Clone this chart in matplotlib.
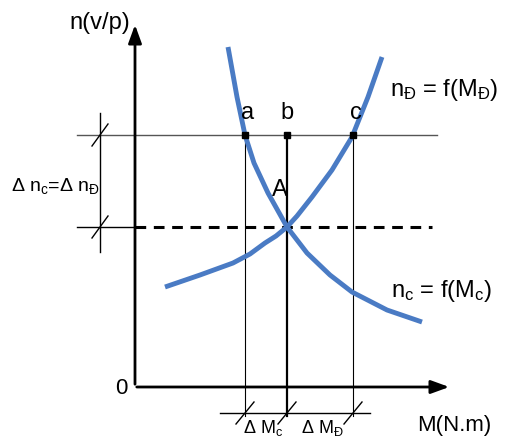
import matplotlib.pyplot as plt

plt.rcParams['font.family'] = ['Liberation Sans Narrow', 'Liberation Sans', 'DejaVu Sans']
plt.rcParams['mathtext.fontset'] = 'custom'
plt.rcParams['mathtext.rm'] = 'Liberation Sans'
plt.rcParams['mathtext.it'] = 'Liberation Sans'

# diagram coordinates (x to the right, y downwards)
origin = (135, 387)
n_level = 135          # speed line through a, b, c
A_level = 227          # speed at the operating point A
pts_x = [245, 287, 353]
pts_names = ['a', 'b', 'c']

# motor characteristic n_D = f(M_D) (rising)
motor_x = [165, 200, 233, 250, 265, 276, 287, 297, 312, 332, 352, 368, 382]
motor_y = [287, 275, 263, 254, 243, 236, 227, 216, 197, 170, 137, 97, 57]
# load characteristic n_c = f(M_c) (falling)
load_x = [228, 237, 245, 254, 268, 287, 307, 330, 352, 387, 422]
load_y = [47, 97, 135, 163, 193, 227, 253, 275, 292, 310, 322]

blue = '#4a7bc4'

fig = plt.figure(figsize=(5.07, 4.42), dpi=100)
ax = fig.add_axes([0, 0, 1, 1])
ax.set_xlim(0, 507)
ax.set_ylim(442, 0)
ax.axis('off')

# axes with arrows
ax.annotate('', xy=(origin[0], 22), xytext=(origin[0], origin[1]),
            arrowprops=dict(arrowstyle='-|>,head_length=1.1,head_width=0.4', color='black', lw=2))
ax.annotate('', xy=(452, origin[1]), xytext=(origin[0] - 1, origin[1]),
            arrowprops=dict(arrowstyle='-|>,head_length=1.1,head_width=0.4', color='black', lw=2))
ax.text(121, 389, '0', fontsize=16, ha='center', va='center')
ax.text(100, 23, 'n(v/p)', fontsize=17, ha='center', va='center')
ax.text(454, 425, 'M(N.m)', fontsize=16, ha='center', va='center')

# reference lines
ax.plot([77, 437], [n_level, n_level], color='#555555', lw=1)
ax.plot([77, origin[0]], [A_level, A_level], color='black', lw=1)
ax.plot([origin[0], 432], [A_level, A_level], color='black', lw=2.2, ls=(0, (3.5, 2.5)))

# verticals from a, b, c down to the dimension line
ax.plot([pts_x[0], pts_x[0]], [n_level, 416], color='black', lw=0.8)
ax.plot([pts_x[1], pts_x[1]], [n_level, 416], color='black', lw=1.6)
ax.plot([pts_x[2], pts_x[2]], [n_level, 416], color='black', lw=0.8)

# dimension lines with slashes
ax.plot([220, 370], [413, 413], color='black', lw=1)
ax.plot([100, 100], [113, 252], color='black', lw=1)
for x in pts_x:
    ax.plot([x - 9, x + 9], [424, 402], color='black', lw=1)
for y in [n_level, A_level]:
    ax.plot([92, 108], [y + 11, y - 11], color='black', lw=1)

# characteristics
ax.plot(motor_x, motor_y, color=blue, lw=3.5, solid_capstyle='butt', solid_joinstyle='round')
ax.plot(load_x, load_y, color=blue, lw=3.5, solid_capstyle='butt', solid_joinstyle='round')

# marked points
ax.plot(pts_x, [n_level] * 3, 's', color='black', ms=5)
for x, name in zip(pts_x, pts_names):
    ax.text(x + (3 if name != 'b' else 0), 113, name, fontsize=17, ha='center', va='center')
ax.text(280, 190, 'A', fontsize=17, ha='center', va='center')

# labels
ax.text(444, 90, r'n$_{\mathregular{Đ}}$ = f(M$_{\mathregular{Đ}}$)', fontsize=17, ha='center', va='center')
ax.text(441, 291, r'n$_{\mathregular{c}}$ = f(M$_{\mathregular{c}}$)', fontsize=17, ha='center', va='center')
ax.text(55, 186, r'Δ n$_{\mathregular{c}}$=Δ n$_{\mathregular{Đ}}$', fontsize=14, ha='center', va='center')
ax.text(263, 428, r'Δ M$_{\mathregular{c}}$', fontsize=13, ha='center', va='center')
ax.text(322, 428, r'Δ M$_{\mathregular{Đ}}$', fontsize=13, ha='center', va='center')

fig.savefig('out.png', dpi=100)
